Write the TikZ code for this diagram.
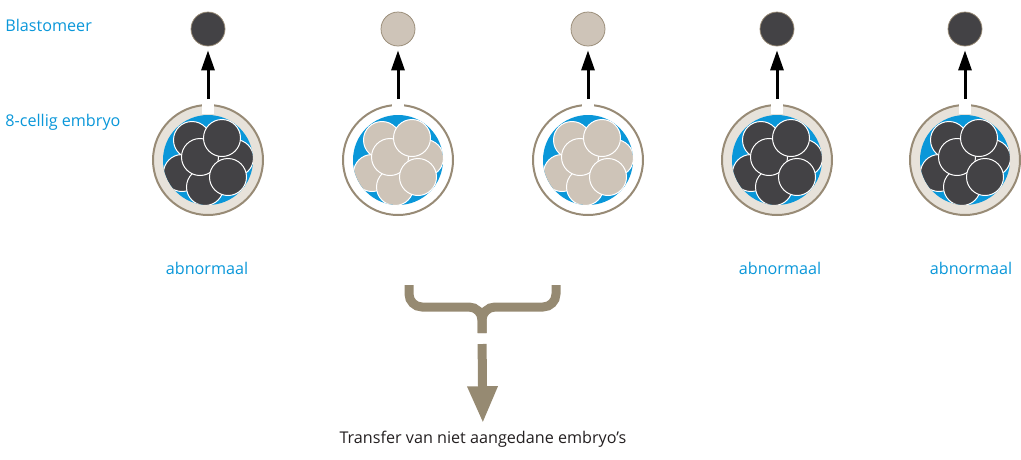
\documentclass[tikz,border=0pt]{standalone}
\usepackage{fontspec}
\setmainfont{Open Sans}
\usetikzlibrary{arrows.meta}

\definecolor{pgdblue}{HTML}{0A97D9}
\definecolor{celldark}{HTML}{434245}
\definecolor{celllight}{HTML}{CEC4B8}
\definecolor{zonafill}{HTML}{E7E2DA}
\definecolor{zonaline}{HTML}{988B76}
\definecolor{bracebrown}{HTML}{968A72}
\definecolor{textdark}{HTML}{231F20}

\begin{document}
\begin{tikzpicture}[x=0.2mm,y=-0.2mm,
    label_blue/.style ={text=pgdblue, inner sep=0pt,
      font=\fontsize{9.2}{11}\selectfont},
    zona_full/.style ={circle, draw=zonaline, line width=0.4mm,
      fill=zonafill, minimum size=22mm, inner sep=0pt},
    zona_open/.style ={circle, draw=zonaline, line width=0.4mm,
      fill=white, minimum size=22mm, inner sep=0pt},
    blast/.style ={circle, draw=zonaline, line width=0.15mm,
      minimum size=6.8mm, inner sep=0pt},
    cell/.style ={draw=white, line width=0.2mm},
    biopsy/.style ={draw, line width=0.6mm,
      -{Triangle[width=2.6mm,length=4mm]},
      shorten <=1mm, shorten >=0.8mm},
    transfer/.style ={draw=bracebrown, line width=1.8mm,
      -{Triangle[width=5.6mm,length=7.4mm]},
      shorten <=2.2mm, shorten >=1.4mm}]
  \useasboundingbox (0,0) rectangle (1021,459);

  % row labels
  \node[label_blue, anchor=west] (lblast) at (5,25) {Blastomeer};
  \node[label_blue, anchor=west] (lembryo) at (5,122) {8-cellig embryo};

  % the five embryos with one blastomere taken out of each
  \foreach \i/\cx/\kind/\cellc in {1/208/zona_full/celldark,
      2/398/zona_open/celllight, 3/588/zona_open/celllight,
      4/777/zona_full/celldark, 5/965/zona_full/celldark} {
    \node[\kind] (e\i) at (\cx,160) {};
    \fill[white] (\cx-6,103) rectangle (\cx+6,114);
    \begin{scope}[shift={(\cx,160)}]
      \fill[pgdblue] (0,0) circle[radius=45];
      \clip (0,0) circle[radius=45];
      % back cells first, front cells last
      \foreach \dx/\dy in {2/10, 27/-2, -26/13, -3/27, -16/-20,
          -8/-3, 14/-22, 20/17}
        \filldraw[cell, fill=\cellc] (\dx,\dy) circle[radius=18.5];
    \end{scope}
    \node[blast, fill=\cellc] (b\i) at (\cx,29) {};
    \draw[biopsy] (e\i) -- (b\i);
  }

  % outcome of the test
  \node[label_blue] (ab1) at (207,268) {abnormaal};
  \node[label_blue] (ab4) at (780,268) {abnormaal};
  \node[label_blue] (ab5) at (971,268) {abnormaal};

  % brace over the two healthy embryos
  \begin{scope}[bracebrown, line width=1.8mm, rounded corners=2.6mm]
    \draw (409,285) |- (482,307) -- (482,333);
    \draw (556,285) |- (482,307) -- (482,333);
  \end{scope}
  \coordinate (bracefoot) at (482,333);

  \node[text=textdark, inner sep=0pt, anchor=base,
    font=\fontsize{9.2}{11}\selectfont] (tr) at (483,443)
    {Transfer van niet aangedane embryo’s};
  \draw[transfer] (bracefoot) -- (tr);
\end{tikzpicture}
\end{document}
